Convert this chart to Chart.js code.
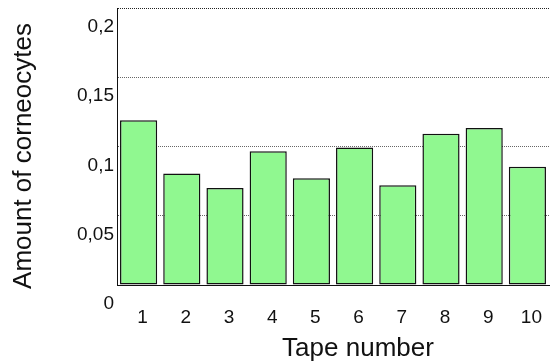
<!DOCTYPE html>
<html>
<head>
<meta charset="utf-8">
<script src="https://cdn.jsdelivr.net/npm/chart.js@4/dist/chart.umd.min.js"></script>
<style>
  html, body { margin: 0; padding: 0; background: #fff; }
  #wrap { width: 550px; height: 363px; }
</style>
</head>
<body>
<div id="wrap"><canvas id="c" width="550" height="363"></canvas></div>
<script>
// Tape numbers and the amount of corneocytes collected on each tape
const tapes = ['1', '2', '3', '4', '5', '6', '7', '8', '9', '10'];
const corneocytes = [0.119, 0.0805, 0.070, 0.0965, 0.077, 0.0993, 0.072, 0.1092, 0.1133, 0.0853];
const yTickLabels = ['0', '0,05', '0,1', '0,15', '0,2'];

const xTitle = 'Tape number';
const yTitle = 'Amount of corneocytes';

const FONT = '"Liberation Sans", Arial, sans-serif';

// Axis titles placed by hand around the plot area
const axisTitles = {
  id: 'axisTitles',
  afterDraw(chart) {
    const { ctx, chartArea } = chart;
    ctx.save();
    ctx.fillStyle = '#111';
    ctx.font = '26px ' + FONT;
    ctx.textAlign = 'center';
    ctx.textBaseline = 'middle';
    ctx.fillText(xTitle, chartArea.left + 241, chartArea.bottom + 64);
    ctx.translate(24, chartArea.top + 148);
    ctx.rotate(-Math.PI / 2);
    ctx.fillText(yTitle, 0, 0);
    ctx.restore();
  }
};

new Chart(document.getElementById('c'), {
  type: 'bar',
  data: {
    labels: tapes,
    datasets: [{
      data: corneocytes,
      backgroundColor: '#90f890',
      borderColor: '#111',
      borderWidth: 1.5,
      borderSkipped: false,
      barPercentage: 0.86,
      categoryPercentage: 1.0
    }]
  },
  options: {
    responsive: false,
    animation: false,
    devicePixelRatio: 1,
    layout: { padding: { top: 8, right: 1, left: 0, bottom: 0 } },
    plugins: {
      legend: { display: false },
      tooltip: { enabled: false }
    },
    scales: {
      x: {
        grid: { display: false, drawTicks: false },
        border: { display: true, color: '#111', width: 1 },
        ticks: {
          color: '#111',
          font: { family: FONT, size: 19 },
          padding: 21,
          labelOffset: 4,
          maxRotation: 0
        },
        afterFit(s) { s.height = 78; s.paddingLeft = 0; s.paddingRight = 0; }
      },
      y: {
        min: 0,
        max: 0.2,
        grid: {
          drawTicks: false,
          color: ctx => ctx.tick && ctx.tick.value >= 0.2 ? '#222' : '#666',
          lineWidth: 1
        },
        border: { display: true, color: '#111', width: 1, dash: [1, 1] },
        ticks: {
          stepSize: 0.05,
          color: '#111',
          font: { family: FONT, size: 19 },
          padding: 3,
          labelOffset: 19,
          callback: (v, i) => yTickLabels[i]
        },
        afterFit(s) { s.width = 117; s.paddingTop = 0; s.paddingBottom = 0; }
      }
    }
  },
  plugins: [axisTitles]
});
</script>
</body>
</html>
